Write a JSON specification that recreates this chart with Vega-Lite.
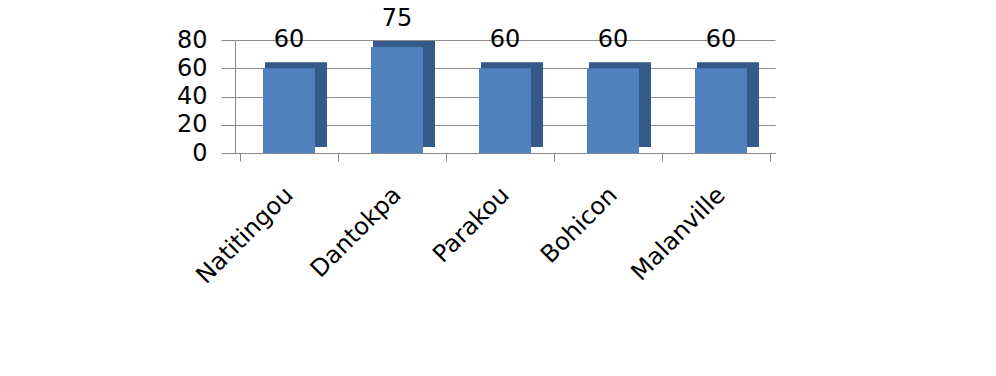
{
  "$schema": "https://vega.github.io/schema/vega-lite/v6.json",
  "autosize": {"type": "none"},
  "width": 540,
  "height": 113,
  "padding": {"left": 235, "top": 40, "right": 221, "bottom": 223},
  "background": "white",
  "config": {
    "view": {"stroke": null},
    "font": "DejaVu Sans",
    "axis": {"labelFont": "DejaVu Sans", "labelColor": "black"}
  },
  "data": {
    "values": [
      {"site": "Natitingou", "value": 60},
      {"site": "Dantokpa", "value": 75},
      {"site": "Parakou", "value": 60},
      {"site": "Bohicon", "value": 60},
      {"site": "Malanville", "value": 60}
    ]
  },
  "encoding": {
    "x": {
      "field": "site", "type": "nominal", "sort": null,
      "axis": {
        "title": null, "labelAngle": -45, "labelFontSize": 24, "labelAlign": "right",
        "labelBaseline": "middle", "labelPadding": 30,
        "domainColor": "#888888", "tickColor": "#888888", "tickBand": "extent", "tickSize": 8
      }
    },
    "y": {
      "field": "value", "type": "quantitative",
      "scale": {"domain": [0, 80]},
      "axis": {
        "title": null, "values": [0, 20, 40, 60, 80], "labelFontSize": 24,
        "gridColor": "#8c8c8c", "domainColor": "#888888", "tickColor": "#888888",
        "tickSize": 14, "labelPadding": 14
      }
    }
  },
  "layer": [
    {"mark": {"type": "bar", "color": "#345A8A", "width": 62, "xOffset": 7, "yOffset": -6}},
    {"mark": {"type": "bar", "color": "#4F81BD", "width": 52}},
    {"mark": {"type": "text", "fontSize": 24, "baseline": "bottom", "dy": -16, "color": "black"},
     "encoding": {"text": {"field": "value", "type": "quantitative"}}}
  ]
}
